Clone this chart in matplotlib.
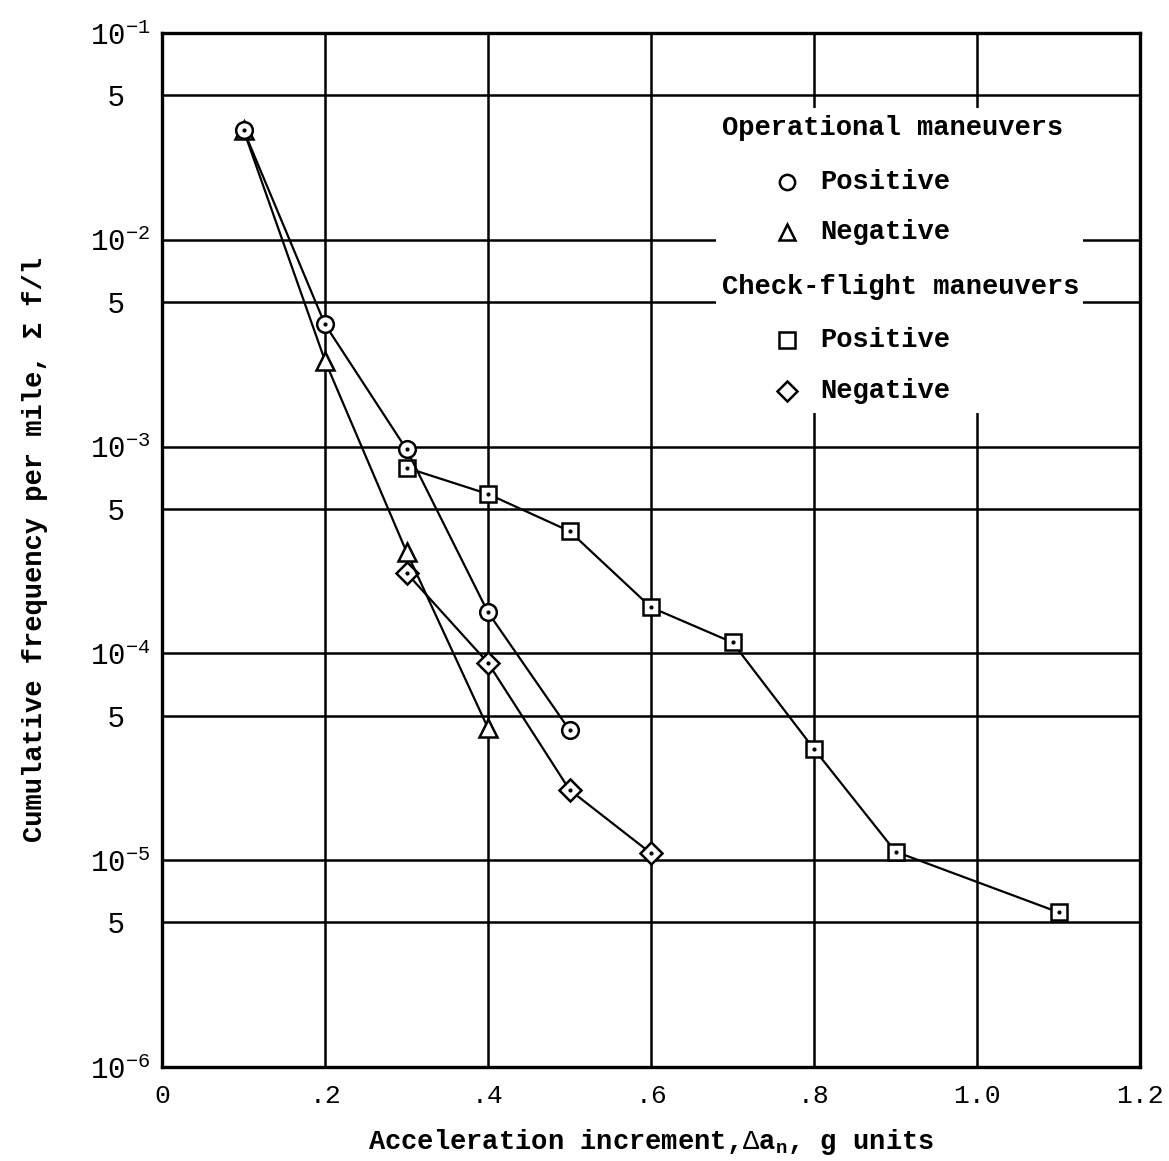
import matplotlib
matplotlib.use("Agg")
import matplotlib.pyplot as plt
from matplotlib.patches import Rectangle
import numpy as np

plt.rcParams['font.family'] = ['Liberation Mono', 'DejaVu Sans Mono']
plt.rcParams['mathtext.fontset'] = 'custom'
plt.rcParams['mathtext.rm'] = 'Liberation Mono'
plt.rcParams['mathtext.it'] = 'Liberation Mono'
plt.rcParams['mathtext.bf'] = 'Liberation Mono:bold'

# Data
op_pos_x = [0.1, 0.2, 0.3, 0.4, 0.5]
op_pos_y = [3.4e-2, 3.9e-3, 9.7e-4, 1.58e-4, 4.26e-5]
op_neg_x = [0.1, 0.2, 0.3, 0.4]
op_neg_y = [3.4e-2, 2.6e-3, 3.1e-4, 4.35e-5]
ck_pos_x = [0.3, 0.4, 0.5, 0.6, 0.7, 0.8, 0.9, 1.1]
ck_pos_y = [7.9e-4, 5.9e-4, 3.9e-4, 1.67e-4, 1.13e-4, 3.45e-5, 1.1e-5, 5.6e-6]
ck_neg_x = [0.3, 0.4, 0.5, 0.6]
ck_neg_y = [2.45e-4, 9.0e-5, 2.19e-5, 1.08e-5]

x_ticks = [0, 0.2, 0.4, 0.6, 0.8, 1.0, 1.2]
x_tick_labels = ['0', '.2', '.4', '.6', '.8', '1.0', '1.2']
y_major = [1e-6, 1e-5, 1e-4, 1e-3, 1e-2, 1e-1]
y_major_labels = [r'$\mathregular{10^{-6}}$', r'$\mathregular{10^{-5}}$', r'$\mathregular{10^{-4}}$',
                  r'$\mathregular{10^{-3}}$', r'$\mathregular{10^{-2}}$', r'$\mathregular{10^{-1}}$']
y_five = [5e-6, 5e-5, 5e-4, 5e-3, 5e-2]

W, H = 1169, 1161
fig = plt.figure(figsize=(W/100, H/100), dpi=100)
ax = fig.add_axes([162/W, 1 - 1067/H, (1140-162)/W, (1067-33)/H])
ax.set_yscale('log')
ax.set_xlim(0, 1.2)
ax.set_ylim(1e-6, 1e-1)

# grid
for xv in x_ticks[1:-1]:
    ax.axvline(xv, color='black', lw=1.8, zorder=1)
for yv in y_major[1:-1] + y_five:
    ax.axhline(yv, color='black', lw=1.8, zorder=1)

# legend backdrop hiding grid
ax.add_patch(Rectangle((0.68, 10**-2.836), 1.13 - 0.68, 10**-1.362 - 10**-2.836,
                       facecolor='white', edgecolor='none', zorder=2))

ms = 12
mew = 1.8
lw = 1.6
def series(x, y, marker, dot=True, ms_=ms):
    ax.plot(x, y, color='black', lw=lw, marker=marker, ms=ms_, mfc='white',
            mec='black', mew=mew, zorder=4)
    if dot:
        ax.plot(x, y, ls='none', marker='o', ms=2, color='black', zorder=5)

series(ck_pos_x, ck_pos_y, 's', ms_=11)
series(ck_neg_x, ck_neg_y, 'D', ms_=11)
series(op_neg_x, op_neg_y, '^', dot=False, ms_=13)
series(op_pos_x, op_pos_y, 'o')

ax.set_xticks(x_ticks)
ax.set_xticklabels(x_tick_labels)
ax.set_yticks(y_major + y_five)
ax.set_yticklabels(y_major_labels + [' 5'] * 5)
ax.yaxis.set_minor_locator(matplotlib.ticker.NullLocator())
ax.tick_params(axis='x', length=0, labelsize=19, pad=12)
ax.tick_params(axis='y', length=0, labelsize=21, pad=52)
for lab in ax.get_yticklabels():
    lab.set_horizontalalignment('left')
for s in ax.spines.values():
    s.set_linewidth(2.4)

ax.set_xlabel(r'Acceleration increment,$\Delta$a$_\mathregular{n}$, g units', fontsize=19.5,
              fontweight='bold', labelpad=14)
ax.set_ylabel('Cumulative frequency per mile, Σ f/l', fontsize=19.5, fontweight='bold', labelpad=30)

# legend text (pixel positions converted to axes fraction)
def px(xp, yp):
    return ((xp - 162) / (1140 - 162), (1067 - yp) / (1067 - 33))

fs = 19.5
t = ax.transAxes
ax.text(*px(722, 128), 'Operational maneuvers', transform=t, fontsize=fs, fontweight='bold',
        va='center', ha='left', zorder=6)
ax.text(*px(722, 287), 'Check-flight maneuvers', transform=t, fontsize=fs, fontweight='bold',
        va='center', ha='left', zorder=6)
entries = [(182, 'o', 'Positive'), (232, '^', 'Negative'), (340, 's', 'Positive'), (391, 'D', 'Negative')]
for yp, mk, lab in entries:
    ax.plot(*px(787, yp), marker=mk, ms=11 if mk != 'D' else 10, mfc='white', mec='black', mew=mew,
            transform=t, zorder=6, ls='none', clip_on=False)
    ax.text(*px(820, yp), lab, transform=t, fontsize=fs, fontweight='bold', va='center', ha='left', zorder=6)

fig.savefig('out.png', dpi=100)
